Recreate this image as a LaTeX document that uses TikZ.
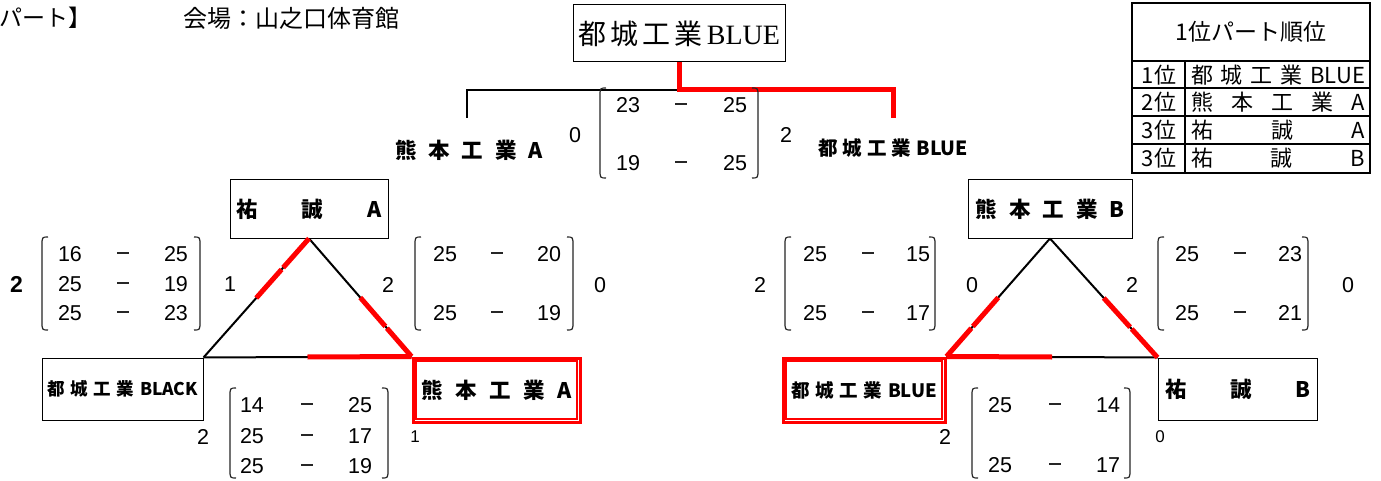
\documentclass[tikz,border=0pt]{standalone}
\usepackage{fontspec}
\usepackage{graphicx}
\usetikzlibrary{calc}
\setmainfont{Liberation Sans}
\newfontfamily\jp{Noto Sans CJK JP}
\newfontfamily\srf{Liberation Serif}
\newfontfamily\num{Liberation Sans}
\newcommand{\fs}[1]{\fontsize{#1}{#1}\selectfont}
\newcommand{\spr}[2]{\makebox[#1][s]{#2}}
\newcommand{\dash}{\rule{12pt}{1.5pt}}
\newcommand{\brk}[4]{%
  \draw[brk] (#1+6,#3) .. controls (#1,#3) .. (#1,#3+9) -- (#1,#4-9) .. controls (#1,#4) .. (#1+6,#4);
  \draw[brk] (#2-6,#3) .. controls (#2,#3) .. (#2,#3+9) -- (#2,#4-9) .. controls (#2,#4) .. (#2-6,#4);}
\begin{document}
\begin{tikzpicture}[x=1pt,y=-1pt,
  box/.style={draw=black,line width=1pt,inner sep=0pt},
  redbox/.style={draw=red,line width=3pt,inner sep=0pt},
  lbl/.style={inner sep=0pt,font=\jp\bfseries},
  sc/.style={inner sep=0pt,font=\num\fs{21.5}},
  ds/.style={inner sep=0pt,text=black!85},
  win/.style={draw=red,line width=5pt},
  lose/.style={draw=black,line width=2pt},
  brk/.style={draw=black!85,line width=1.2pt},
  tline/.style={draw=black,line width=2.5pt}]
\useasboundingbox[fill=white] (0,0) rectangle (1381,481);

% header
\node[inner sep=0pt,anchor=west,font=\jp\fs{23}] (h1) at (-1,18) {パート】};
\node[inner sep=0pt,anchor=west,font=\jp\fs{24}] (h2) at (183,18) {会場：山之口体育館};

% final
\node[box,minimum width=212pt,minimum height=57pt] (top) at (679,33.5)
  {\jp\fs{28}\spr{202pt}{都\hfill 城\hfill 工\hfill 業\hfill{\srf BLUE}}};
\node[lbl,font=\jp\bfseries\fs{21.5}] (tA) at (469,150) {\spr{148pt}{熊\hfill 本\hfill 工\hfill 業\hfill A}};
\node[lbl,font=\jp\bfseries\fs{19.5}] (tB) at (893,148) {\spr{150pt}{都\hfill 城\hfill 工\hfill 業\hfill BLUE}};
\coordinate (jn) at (679,90);
\coordinate (tAt) at (467,118);
\coordinate (tBt) at (893,118);
\draw[lose] (jn) -| (tAt);
\draw[win] (top.south) -- (jn) -| (tBt);
\node[sc] (f0) at (575,135) {0};
\node[sc] (f2) at (786,135) {2};
\brk{600}{758}{88}{178}
\node[sc] (f11) at (628,105) {23}; \node[ds] (f12) at (681,104) {\dash}; \node[sc] (f13) at (735,105) {25};
\node[sc] (f21) at (628,163) {19}; \node[ds] (f22) at (681,162) {\dash}; \node[sc] (f23) at (735,163) {25};

% ranking table
\draw[tline] (1132,3) rectangle (1370,173);
\draw[tline] (1132,61) -- (1370,61);
\draw[tline] (1132,88) -- (1370,88);
\draw[tline] (1132,116) -- (1370,116);
\draw[tline] (1132,144) -- (1370,144);
\draw[tline] (1185,61) -- (1185,173);
\node[inner sep=0pt,font=\jp\fs{23}] (th) at (1251,32) {1位パート順位};
\node[inner sep=0pt,font=\jp\fs{22}] (r1a) at (1159,75) {1位};
\node[inner sep=0pt,font=\jp\fs{22}] (r1b) at (1278,75) {\spr{174pt}{都\hfill 城\hfill 工\hfill 業\hfill BLUE}};
\node[inner sep=0pt,font=\jp\fs{22}] (r2a) at (1159,102) {2位};
\node[inner sep=0pt,font=\jp\fs{22}] (r2b) at (1278,102) {\spr{174pt}{熊\hfill 本\hfill 工\hfill 業\hfill A}};
\node[inner sep=0pt,font=\jp\fs{22}] (r3a) at (1159,130) {3位};
\node[inner sep=0pt,font=\jp\fs{22}] (r3b) at (1278,130) {\spr{174pt}{祐\hfill 誠\hfill A}};
\node[inner sep=0pt,font=\jp\fs{22}] (r4a) at (1159,158.5) {3位};
\node[inner sep=0pt,font=\jp\fs{22}] (r4b) at (1278,158.5) {\spr{174pt}{祐\hfill 誠\hfill B}};

% left triangle
\node[box,minimum width=158pt,minimum height=58pt,font=\jp\bfseries\fs{21.5}] (SA) at (309,209) {\spr{146pt}{祐\hfill 誠\hfill A}};
\node[box,minimum width=161pt,minimum height=62pt,font=\jp\bfseries\fs{17.5}] (BK) at (122.5,389) {\spr{151pt}{都\hfill 城\hfill 工\hfill 業\hfill BLACK}};
\node[redbox,minimum width=167pt,minimum height=64pt,font=\jp\bfseries\fs{21.5}] (KA) at (496.5,390) {\spr{150pt}{熊\hfill 本\hfill 工\hfill 業\hfill A}};
\draw[red,line width=1.5pt] ($(KA.north west)+(4.5,4.5)$) rectangle ($(KA.south east)+(-4.5,-4.5)$);
\draw[lose] (SA.south) -- (BK.north east);
\draw[lose] (SA.south) -- (KA.north west);
\draw[lose] (BK.north east) -- (KA.north west);
\draw[win] (SA.south) -- ($(SA.south)!0.245!(BK.north east)$);
\draw[win] ($(SA.south)!0.26!(BK.north east)$) -- ($(SA.south)!0.5!(BK.north east)$);
\draw[win] ($(SA.south)!0.5!(KA.north west)$) -- ($(SA.south)!0.745!(KA.north west)$);
\draw[win] ($(SA.south)!0.76!(KA.north west)$) -- (KA.north west);
\draw[win] ($(BK.north east)!0.5!(KA.north west)$) -- (KA.north west);

\node[sc,font=\num\bfseries\fs{23}] (l2) at (16.5,284) {2};
\brk{42}{200}{237}{330}
\node[sc] (a11) at (70,254) {16}; \node[ds] (a12) at (123,253) {\dash}; \node[sc] (a13) at (176,254) {25};
\node[sc] (a21) at (70,284) {25}; \node[ds] (a22) at (123,283) {\dash}; \node[sc] (a23) at (176,284) {19};
\node[sc] (a31) at (70,313) {25}; \node[ds] (a32) at (123,312) {\dash}; \node[sc] (a33) at (176,313) {23};
\node[sc] (l1) at (230,284) {1};

\node[sc] (m2) at (388,285) {2};
\brk{415}{573}{237}{330}
\node[sc] (b11) at (445,254) {25}; \node[ds] (b12) at (497,253) {\dash}; \node[sc] (b13) at (549,254) {20};
\node[sc] (b21) at (445,313) {25}; \node[ds] (b22) at (497,312) {\dash}; \node[sc] (b23) at (549,313) {19};
\node[sc] (m0) at (600,285) {0};

\node[sc] (n2) at (203,437) {2};
\brk{230}{388}{388}{478}
\node[sc] (c11) at (252,405) {14}; \node[ds] (c12) at (307,404) {\dash}; \node[sc] (c13) at (360,405) {25};
\node[sc] (c21) at (252,436) {25}; \node[ds] (c22) at (307,435) {\dash}; \node[sc] (c23) at (360,436) {17};
\node[sc] (c31) at (252,466) {25}; \node[ds] (c32) at (307,465) {\dash}; \node[sc] (c33) at (360,466) {19};
\node[sc,font=\num\fs{17}] (n1) at (415,437) {1};

% right triangle
\node[box,minimum width=164pt,minimum height=58pt,font=\jp\bfseries\fs{21.5}] (KB) at (1050,209) {\spr{149pt}{熊\hfill 本\hfill 工\hfill 業\hfill B}};
\node[redbox,minimum width=162pt,minimum height=64pt,font=\jp\bfseries\fs{18.5}] (BL) at (864,390) {\spr{146pt}{都\hfill 城\hfill 工\hfill 業\hfill BLUE}};
\draw[red,line width=1.5pt] ($(BL.north west)+(4.5,4.5)$) rectangle ($(BL.south east)+(-4.5,-4.5)$);
\node[box,minimum width=159pt,minimum height=62pt,font=\jp\bfseries\fs{21.5}] (SB) at (1237.5,389) {\spr{145pt}{祐\hfill 誠\hfill B}};
\draw[lose] (KB.south) -- (BL.north east);
\draw[lose] (KB.south) -- (SB.north west);
\draw[lose] (BL.north east) -- (SB.north west);
\draw[win] ($(KB.south)!0.5!(BL.north east)$) -- ($(KB.south)!0.745!(BL.north east)$);
\draw[win] ($(KB.south)!0.76!(BL.north east)$) -- (BL.north east);
\draw[win] ($(KB.south)!0.5!(SB.north west)$) -- ($(KB.south)!0.745!(SB.north west)$);
\draw[win] ($(KB.south)!0.76!(SB.north west)$) -- (SB.north west);
\draw[win] (BL.north east) -- ($(BL.north east)!0.5!(SB.north west)$);

\node[sc] (p2) at (760,285) {2};
\brk{785}{935}{237}{330}
\node[sc] (d11) at (815,254) {25}; \node[ds] (d12) at (868,253) {\dash}; \node[sc] (d13) at (918,254) {15};
\node[sc] (d21) at (815,313) {25}; \node[ds] (d22) at (868,312) {\dash}; \node[sc] (d23) at (918,313) {17};
\node[sc] (p0) at (972,285) {0};

\node[sc] (q2) at (1132,285) {2};
\brk{1158}{1308}{237}{330}
\node[sc] (e11) at (1187,254) {25}; \node[ds] (e12) at (1240,253) {\dash}; \node[sc] (e13) at (1290,254) {23};
\node[sc] (e21) at (1187,313) {25}; \node[ds] (e22) at (1240,312) {\dash}; \node[sc] (e23) at (1290,313) {21};
\node[sc] (q0) at (1348,285) {0};

\node[sc] (s2) at (945,437) {2};
\brk{972}{1130}{388}{478}
\node[sc] (g11) at (1000,405) {25}; \node[ds] (g12) at (1055,404) {\dash}; \node[sc] (g13) at (1108,405) {14};
\node[sc] (g21) at (1000,465) {25}; \node[ds] (g22) at (1055,464) {\dash}; \node[sc] (g23) at (1108,465) {17};
\node[sc,font=\num\fs{17}] (s0) at (1160,437) {0};
\end{tikzpicture}
\end{document}
